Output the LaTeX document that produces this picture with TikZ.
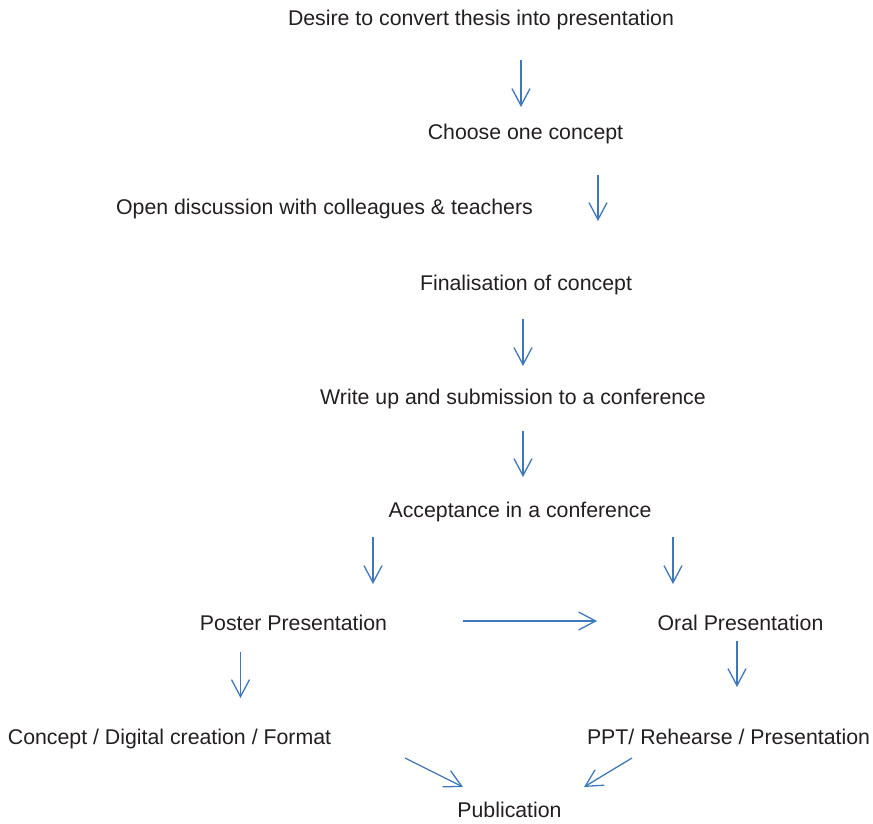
\documentclass[tikz,border=0pt]{standalone}
\usepackage{fontspec}
\setmainfont{Liberation Sans}
\definecolor{textGray}{RGB}{35, 31, 32}
\definecolor{flowBlue}{RGB}{61, 120, 188}
\usetikzlibrary{
    arrows.meta,
    scopes
}
\tikzset{
    thesisFlow/.style={
        stage/.style={
            font = \fontsize{21.3}{25}\selectfont,
            text = textGray,
            inner sep = 0pt,
            anchor = base,
        },
        flow/.style = {
            draw = flowBlue,
            line width = 1.3pt,
            line join = round,
            -{Straight Barb[length=17pt, width=18pt, line width=1.3pt]},
        },
    }
}

\begin{document}
\begin{tikzpicture}[x=1pt, y=-1pt, thesisFlow]
    \useasboundingbox (0,0) rectangle (873,824);
    \begin{scope}
        \node[stage] (desire) at (481, 25.3) {Desire to convert thesis into presentation};
        \node[stage] (choose) at (525.5, 140) {Choose one concept};
        \node[stage] (discuss) at (324.5, 214) {Open discussion with colleagues \& teachers};
        \node[stage] (finalise) at (526, 290) {Finalisation of concept};
        \node[stage] (writeup) at (513, 404) {Write up and submission to a conference};
        \node[stage] (accept) at (520, 517) {Acceptance in a conference};
        \node[stage] (poster) at (293.5, 630) {Poster Presentation};
        \node[stage] (oral) at (740.5, 630) {Oral Presentation};
        \node[stage] (posterWork) at (169.5, 744) {Concept / Digital creation / Format};
        \node[stage] (oralWork) at (728.5, 744) {PPT/ Rehearse / Presentation};
        \node[stage] (publication) at (509.5, 817) {Publication};
    \end{scope}

    % arrow ends, set apart from the texts
    \coordinate (desire_out) at (521, 60);
    \coordinate (choose_in) at (521, 107);
    \coordinate (choose_out) at (598, 175);
    \coordinate (finalise_in) at (598, 221);
    \coordinate (finalise_out) at (523, 319);
    \coordinate (writeup_in) at (523, 366);
    \coordinate (writeup_out) at (523, 431);
    \coordinate (accept_in) at (523, 477);
    \coordinate (accept_outl) at (373, 537);
    \coordinate (poster_in) at (373, 584);
    \coordinate (accept_outr) at (673, 537);
    \coordinate (oral_in) at (673, 584);
    \coordinate (poster_out) at (463, 621);
    \coordinate (oral_inl) at (597, 621);
    \coordinate (poster_down) at (240.5, 652);
    \coordinate (posterWork_in) at (240.5, 698);
    \coordinate (oral_down) at (737, 641);
    \coordinate (oralWork_in) at (737, 687);
    \coordinate (posterWork_out) at (405, 758);
    \coordinate (publication_inl) at (463, 787);
    \coordinate (oralWork_out) at (632, 758);
    \coordinate (publication_inr) at (584, 787);

    \begin{scope} [every edge/.style={flow}]
        \path (desire_out) edge (choose_in);
        \path (choose_out) edge (finalise_in);
        \path (finalise_out) edge (writeup_in);
        \path (writeup_out) edge (accept_in);
        \path (accept_outl) edge (poster_in);
        \path (accept_outr) edge (oral_in);
        \path (poster_out) edge (oral_inl);
        \path (poster_down) edge (posterWork_in);
        \path (oral_down) edge (oralWork_in);
        \path (posterWork_out) edge (publication_inl);
        \path (oralWork_out) edge (publication_inr);
    \end{scope}
\end{tikzpicture}
\end{document}
